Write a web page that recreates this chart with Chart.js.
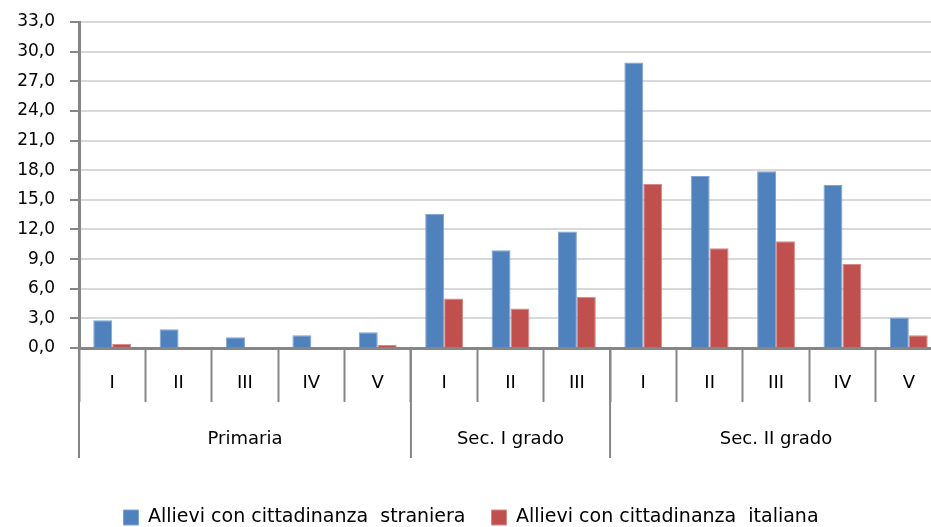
<!DOCTYPE html>
<html>
<head>
<meta charset="utf-8">
<script src="https://cdn.jsdelivr.net/npm/chart.js@4"></script>
<style>
  html, body { margin: 0; padding: 0; background: #fff; overflow: hidden; }
  #wrap { width: 964px; height: 527px; }
</style>
</head>
<body>
<div id="wrap"><canvas id="chart"></canvas></div>
<script>
const classes = ['I', 'II', 'III', 'IV', 'V', 'I', 'II', 'III', 'I', 'II', 'III', 'IV', 'V']
const groups = [
    { label: 'Primaria', from: 0, to: 5 },
    { label: 'Sec. I grado', from: 5, to: 8 },
    { label: 'Sec. II grado', from: 8, to: 13 },
]
const stranieri = [2.8, 1.9, 1.1, 1.3, 1.6, 13.6, 9.9, 11.8, 28.9, 17.4, 17.9, 16.5, 3.1]
const italiani = [0.4, 0.0, 0.0, 0.0, 0.3, 5.0, 4.0, 5.2, 16.6, 10.1, 10.8, 8.5, 1.3]

const FONT = 'DejaVu Sans'
const AXIS = '#868686'

// group separators and group names under the class labels
const groupAxis = {
    id: 'groupAxis',
    afterDraw(chart) {
        const ctx = chart.ctx
        const x = chart.scales.x
        const bottom = chart.chartArea.bottom
        const half = (x.getPixelForValue(1) - x.getPixelForValue(0)) / 2
        ctx.save()
        ctx.strokeStyle = AXIS
        ctx.lineWidth = 2
        ctx.fillStyle = '#000'
        ctx.font = '18px "' + FONT + '"'
        ctx.textAlign = 'center'
        ctx.textBaseline = 'middle'
        groups.forEach(g => {
            const left = x.getPixelForValue(g.from) - half
            const right = x.getPixelForValue(g.to - 1) + half
            ctx.beginPath()
            ctx.moveTo(left, bottom)
            ctx.lineTo(left, bottom + 110)
            ctx.stroke()
            ctx.fillText(g.label, (left + right) / 2, bottom + 91)
        })
        ctx.restore()
    }
}

new Chart(document.getElementById('chart'), {
    type: 'bar',
    data: {
        labels: classes,
        datasets: [
            {
                label: 'Allievi con cittadinanza  straniera',
                data: stranieri,
                backgroundColor: '#4F81BD',
                borderColor: '#7FA3D3',
                borderWidth: 1,
            },
            {
                label: 'Allievi con cittadinanza  italiana',
                data: italiani,
                backgroundColor: '#C0504D',
                borderColor: '#D58A88',
                borderWidth: 1,
            },
        ],
    },
    options: {
        responsive: true,
        maintainAspectRatio: false,
        animation: false,
        layout: { padding: { left: 0, right: 22, top: 22, bottom: -10 } },
        datasets: {
            bar: { categoryPercentage: 0.57, barPercentage: 1.0 }
        },
        scales: {
            x: {
                border: { color: AXIS, width: 3 },
                grid: {
                    offset: true,
                    drawOnChartArea: false,
                    drawTicks: true,
                    tickLength: 54,
                    tickColor: AXIS,
                    tickWidth: 2,
                },
                ticks: {
                    color: '#000',
                    padding: -29,
                    maxRotation: 0,
                    font: { family: FONT, size: 18 },
                },
                afterFit(scale) { scale.height = 134 },
            },
            y: {
                min: 0,
                max: 33,
                border: { color: AXIS, width: 3 },
                grid: {
                    color: '#D9D9D9',
                    lineWidth: 2,
                    tickColor: AXIS,
                    tickLength: 9,
                    tickWidth: 2,
                },
                ticks: {
                    stepSize: 3,
                    color: '#000',
                    padding: 15,
                    font: { family: FONT, size: 17 },
                    callback: v => v.toFixed(1).replace('.', ','),
                },
                afterFit(scale) {
                    scale.width = 79
                    scale.paddingTop = 0
                },
            },
        },
        plugins: {
            tooltip: { enabled: false },
            legend: {
                position: 'bottom',
                labels: {
                    color: '#000',
                    boxWidth: 15,
                    boxHeight: 15,
                    padding: 26,
                    font: { family: FONT, size: 19 },
                },
            },
        },
    },
    plugins: [groupAxis],
})
</script>
</body>
</html>
